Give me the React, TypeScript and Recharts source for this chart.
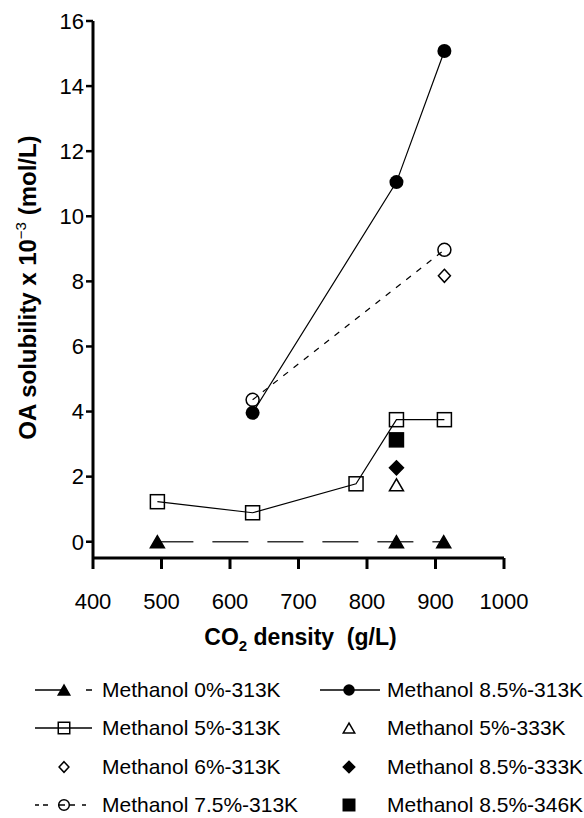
import React from 'react';
import { ScatterChart, Scatter, XAxis, YAxis } from 'recharts';

document.body.style.margin = '0';

const FONT = '"Liberation Sans", Arial, Helvetica, sans-serif';

const xTicks = [400, 500, 600, 700, 800, 900, 1000];
const yTicks = [0, 2, 4, 6, 8, 10, 12, 14, 16];

// CO2 density (g/L) and OA solubility x 10^-3 (mol/L) per series
const densM0_313 = [494, 843, 912];
const solM0_313 = [0, 0, 0];

const densM5_313 = [494, 633, 784, 843, 913];
const solM5_313 = [1.23, 0.89, 1.78, 3.75, 3.75];

const densM6_313 = [913];
const solM6_313 = [8.17];

const densM75_313 = [633, 913];
const solM75_313 = [4.36, 8.97];

const densM85_313 = [633, 843, 913];
const solM85_313 = [3.96, 11.05, 15.08];

const densM5_333 = [843];
const solM5_333 = [1.75];

const densM85_333 = [843];
const solM85_333 = [2.27];

const densM85_346 = [843];
const solM85_346 = [3.13];

const toPoints = (xs: number[], ys: number[]) => xs.map((x, i) => ({ x, y: ys[i] }));

type Kind = 'triFill' | 'triOpen' | 'sqOpen' | 'sqFill' | 'circFill' | 'circOpen' | 'diaOpen' | 'diaFill';

function markerEl(kind: Kind, cx: number, cy: number, s = 1) {
  const sw = 1.5;
  switch (kind) {
    case 'triFill':
    case 'triOpen': {
      const w = 7 * s, h = 6 * s;
      const pts = `${cx},${cy - h} ${cx - w},${cy + h} ${cx + w},${cy + h}`;
      return <polygon points={pts} fill={kind === 'triFill' ? '#000' : 'none'} stroke="#000" strokeWidth={sw} />;
    }
    case 'sqOpen':
    case 'sqFill': {
      const h = 7 * s;
      return (
        <rect x={cx - h} y={cy - h} width={2 * h} height={2 * h}
          fill={kind === 'sqFill' ? '#000' : 'none'} stroke="#000" strokeWidth={sw} />
      );
    }
    case 'circFill':
      return <circle cx={cx} cy={cy} r={7 * s} fill="#000" />;
    case 'circOpen':
      return <circle cx={cx} cy={cy} r={6.5 * s} fill="none" stroke="#000" strokeWidth={sw} />;
    case 'diaOpen':
    case 'diaFill': {
      const w = (kind === 'diaFill' ? 7 : 6) * s, h = (kind === 'diaFill' ? 7 : 6.5) * s;
      const pts = `${cx},${cy - h} ${cx + w},${cy} ${cx},${cy + h} ${cx - w},${cy}`;
      return <polygon points={pts} fill={kind === 'diaFill' ? '#000' : 'none'} stroke="#000" strokeWidth={sw} />;
    }
  }
  return null;
}

const shapeOf = (kind: Kind) => (p: any) => <g>{markerEl(kind, p.cx, p.cy)}</g>;

const YLabel = (props: any) => {
  const vb = props.viewBox;
  const cy = vb.y + vb.height / 2 - 2;
  return (
    <text transform={`translate(36, ${cy}) rotate(-90)`} textAnchor="middle"
      fontFamily={FONT} fontWeight="bold" fontSize={24} fill="#000">
      <tspan>OA solubility x 10</tspan>
      <tspan dy={-10} fontSize={15} fontWeight="normal">−3</tspan>
      <tspan dy={10}> (mol/L)</tspan>
    </text>
  );
};

const XLabel = (props: any) => {
  const vb = props.viewBox;
  return (
    <text x={vb.x + vb.width / 2 + 2} y={645} textAnchor="middle"
      fontFamily={FONT} fontWeight="bold" fontSize={23} fill="#000" style={{ whiteSpace: 'pre' }}>
      <tspan>CO</tspan>
      <tspan dy={6} fontSize={15}>2</tspan>
      <tspan dy={-6}>{' density  (g/L)'}</tspan>
    </text>
  );
};

type LegendItem = { kind: Kind; label: string; dash?: string };

// dash patterns of the legend samples
const legendLeft: LegendItem[] = [
  { kind: 'triFill', label: 'Methanol 0%-313K', dash: '30 21 6 100' },
  { kind: 'sqOpen', label: 'Methanol 5%-313K', dash: '' },
  { kind: 'diaOpen', label: 'Methanol 6%-313K' },
  { kind: 'circOpen', label: 'Methanol 7.5%-313K', dash: '4 4 5 11 6 5 5 7 4 100' },
];

const legendRight: LegendItem[] = [
  { kind: 'circFill', label: 'Methanol 8.5%-313K', dash: '' },
  { kind: 'triOpen', label: 'Methanol 5%-333K' },
  { kind: 'diaFill', label: 'Methanol 8.5%-333K' },
  { kind: 'sqFill', label: 'Methanol 8.5%-346K' },
];

function LegendSample({ item, x1, x2, mx }: { item: LegendItem; x1: number; x2: number; mx: number }) {
  return (
    <svg width={x2 + 10} height={38} style={{ position: 'absolute', left: 0, top: 0, overflow: 'visible' }}>
      {item.dash !== undefined && (
        <line x1={x1} x2={x2} y1={19} y2={19} stroke="#000" strokeWidth={1.3}
          strokeDasharray={item.dash || undefined} />
      )}
      {markerEl(item.kind, mx, 19, 0.82)}
    </svg>
  );
}

function LegendColumn({ items, left, x1, x2, mx, textLeft }: any) {
  return (
    <div style={{ position: 'absolute', left, top: 671, width: 300 }}>
      {items.map((it: LegendItem) => (
        <div key={it.label} style={{ position: 'relative', height: 38.3 }}>
          <LegendSample item={it} x1={x1} x2={x2} mx={mx} />
          <span style={{ position: 'absolute', left: textLeft, top: 0, lineHeight: '38px', fontSize: 21, fontFamily: FONT, color: '#000', whiteSpace: 'nowrap' }}>
            {it.label}
          </span>
        </div>
      ))}
    </div>
  );
}

export default function App() {
  return (
    <div style={{ position: 'relative', width: 584, height: 818, background: '#fff', overflow: 'hidden' }}>
      <ScatterChart width={584} height={660} margin={{ top: 21, right: 80, left: 0, bottom: 0 }}>
        <XAxis type="number" dataKey="x" domain={[400, 1000]} ticks={xTicks} interval={0} allowDataOverflow
          height={102} tickSize={11} tickMargin={24}
          axisLine={{ stroke: '#000', strokeWidth: 3 }} tickLine={{ stroke: '#000', strokeWidth: 3 }}
          tick={{ fill: '#000', fontSize: 22, fontFamily: FONT }} label={XLabel} />
        <YAxis type="number" dataKey="y" domain={[-0.5, 16]} ticks={yTicks} interval={0} allowDataOverflow
          width={93} tickSize={7} tickMargin={2}
          axisLine={{ stroke: '#000', strokeWidth: 3 }} tickLine={{ stroke: '#000', strokeWidth: 2.5 }}
          tick={{ fill: '#000', fontSize: 22, fontFamily: FONT }} label={YLabel} />
        <Scatter data={toPoints(densM0_313, solM0_313)} isAnimationActive={false}
          line={{ stroke: '#333', strokeWidth: 1.5, strokeDasharray: '36 19' }} shape={shapeOf('triFill')} />
        <Scatter data={toPoints(densM5_313, solM5_313)} isAnimationActive={false}
          line={{ stroke: '#000', strokeWidth: 1.2 }} shape={shapeOf('sqOpen')} />
        <Scatter data={toPoints(densM6_313, solM6_313)} isAnimationActive={false} shape={shapeOf('diaOpen')} />
        <Scatter data={toPoints(densM75_313, solM75_313)} isAnimationActive={false}
          line={{ stroke: '#000', strokeWidth: 1.2, strokeDasharray: '6 7' }} shape={shapeOf('circOpen')} />
        <Scatter data={toPoints(densM85_313, solM85_313)} isAnimationActive={false}
          line={{ stroke: '#000', strokeWidth: 1.2 }} shape={shapeOf('circFill')} />
        <Scatter data={toPoints(densM5_333, solM5_333)} isAnimationActive={false} shape={shapeOf('triOpen')} />
        <Scatter data={toPoints(densM85_333, solM85_333)} isAnimationActive={false} shape={shapeOf('diaFill')} />
        <Scatter data={toPoints(densM85_346, solM85_346)} isAnimationActive={false} shape={shapeOf('sqFill')} />
      </ScatterChart>
      <LegendColumn items={legendLeft} left={0} x1={35} x2={92} mx={64} textLeft={102} />
      <LegendColumn items={legendRight} left={300} x1={20} x2={80} mx={49} textLeft={87} />
    </div>
  );
}
